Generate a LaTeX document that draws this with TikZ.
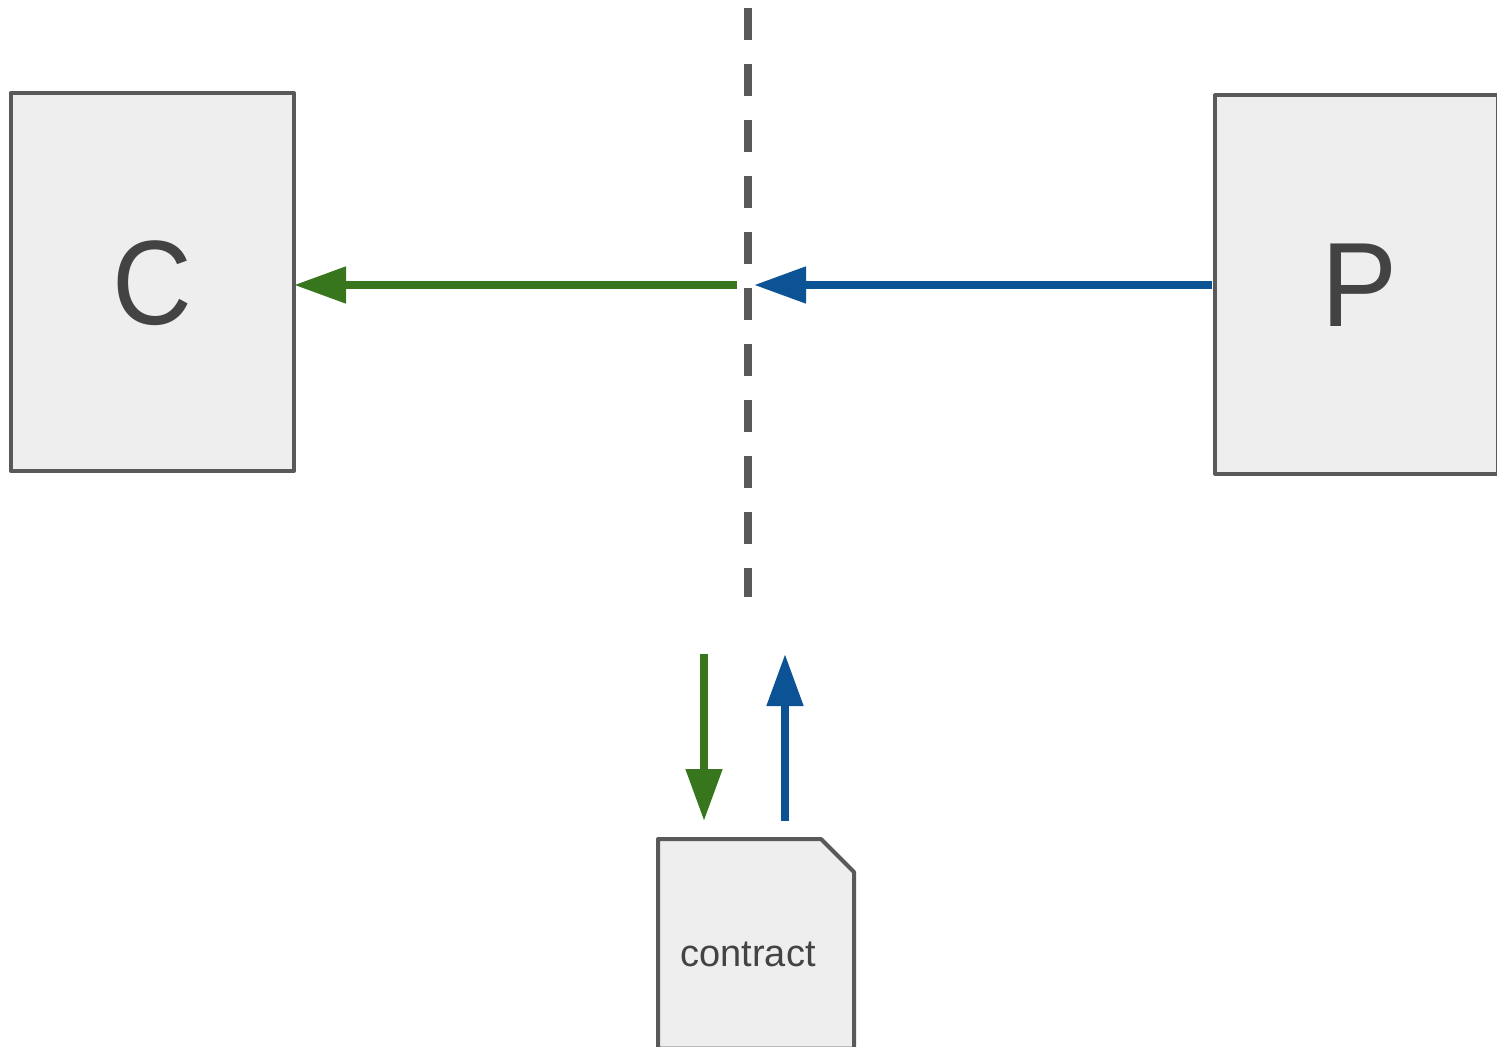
\documentclass[tikz,border=0pt]{standalone}
\usepackage{fontspec}
\setmainfont{Liberation Sans}
\usetikzlibrary{arrows.meta}
\definecolor{boxfill}{HTML}{EEEEEE}
\definecolor{boxline}{HTML}{595959}
\definecolor{txt}{HTML}{434343}
\definecolor{grn}{HTML}{38761D}
\definecolor{blu}{HTML}{0B5394}
\tikzset{
  x=0.5pt,y=-0.5pt,
  shapebox/.style={draw=boxline,fill=boxfill,line width=2pt,line join=round},
  biglabel/.style={text=txt,font=\fontsize{60}{60}\selectfont,inner sep=0pt},
  smalllabel/.style={text=txt,font=\fontsize{19}{20}\selectfont,inner sep=0pt},
  flow/.style={line width=4pt,-{Triangle[length=26pt,width=17.5pt,inset=0pt,sep=0pt]}},
  divider/.style={draw=boxline,line width=4pt,dash pattern=on 16pt off 12pt}
}
\begin{document}
\begin{tikzpicture}
\useasboundingbox (0,0) rectangle (1497,1047);
\node[shapebox,minimum width=141.75pt,minimum height=189pt,inner sep=0pt] (cbox) at (152.25,282) {};
\node[shapebox,minimum width=141.75pt,minimum height=189pt,inner sep=0pt] (pbox) at (1356.5,284.5) {};
\node[biglabel] (clabel) at (152.8,283) {\scalebox{.92}[1]{C}};
\node[biglabel] (plabel) at (1359,285) {\scalebox{.95}[1]{P}};
\coordinate (dtop) at (748,8);
\coordinate (dbot) at (748,597);
\draw[divider] (dtop) -- (dbot);
\coordinate (gstart) at (737,285);
\coordinate (gend) at (294,285);
\coordinate (bstart) at (1212,285);
\coordinate (bend) at (754,285);
\draw[flow,grn] (gstart) -- (gend);
\draw[flow,blu] (bstart) -- (bend);
\coordinate (gs2) at (704,654);
\coordinate (ge2) at (704,821);
\coordinate (bs2) at (785,821);
\coordinate (be2) at (785,654);
\draw[flow,grn] (gs2) -- (ge2);
\draw[flow,blu] (bs2) -- (be2);
\draw[shapebox] (658,1048.7) -- (658,839) -- (821,839) -- (854,872) -- (854,1048.7) -- cycle;
\node[smalllabel] (contract) at (748,954.5) {contract};
\end{tikzpicture}
\end{document}
